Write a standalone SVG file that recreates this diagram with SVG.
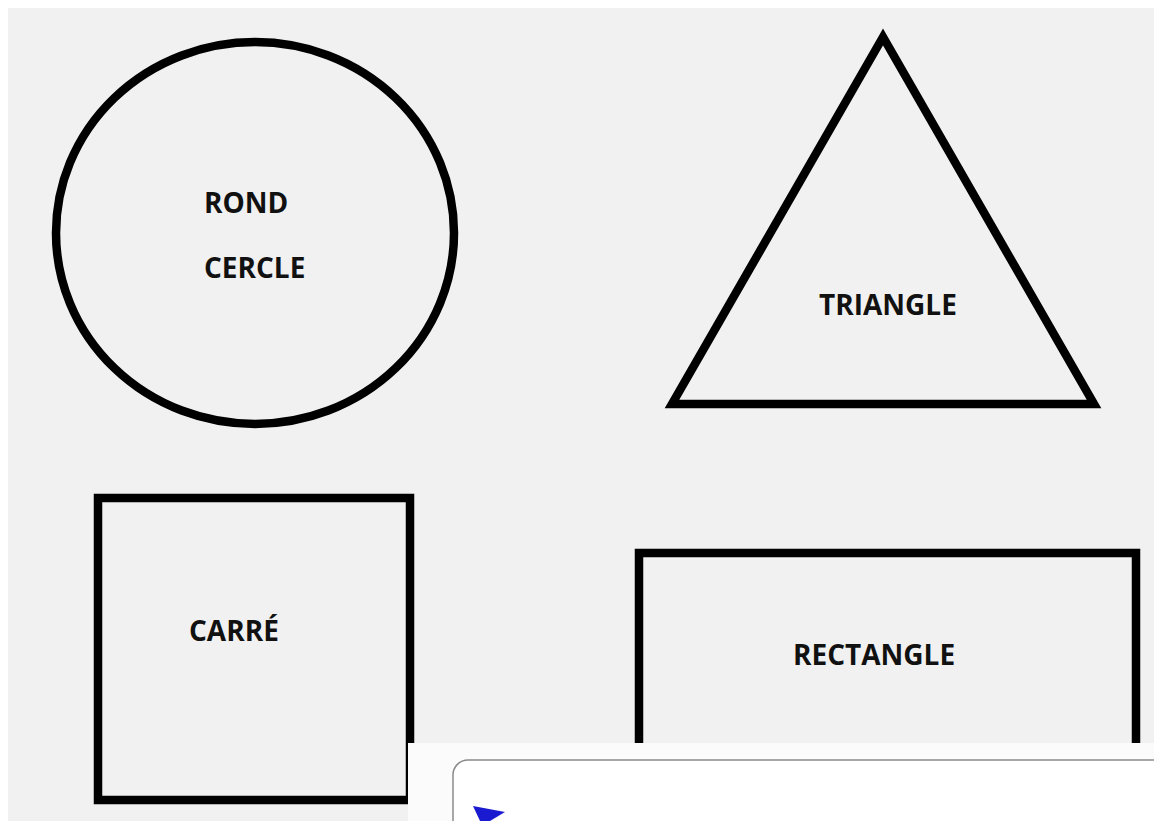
<svg xmlns="http://www.w3.org/2000/svg" width="1154" height="821" viewBox="0 0 1154 821">
<style>
.s{fill:none;stroke:#000;stroke-width:8.5}
.t{font-family:"Open Sans","Liberation Sans",sans-serif;font-weight:bold;font-size:28px;fill:#111}
</style>
<rect width="1154" height="821" fill="#fff"/>
<rect x="8" y="8" width="1146" height="813" fill="#f1f1f1"/>
<g id="rond">
<ellipse class="s" cx="255" cy="233" rx="199" ry="191"/>
<text class="t" x="204" y="213">ROND</text>
<text class="t" x="204" y="278">CERCLE</text>
</g>
<g id="triangle">
<polygon class="s" points="883,37 672,404 1094,404"/>
<text class="t" x="819" y="315">TRIANGLE</text>
</g>
<g id="carre">
<rect class="s" x="98" y="498" width="312" height="302"/>
<text class="t" x="189" y="641">CARRÉ</text>
</g>
<g id="rectangle">
<rect class="s" x="639" y="553" width="497" height="260"/>
<text class="t" x="793" y="665">RECTANGLE</text>
</g>
<g id="overlay">
<rect x="408" y="743" width="746" height="78" fill="#fbfbfb"/>
<rect x="453" y="760" width="720" height="90" rx="15" fill="#fff" stroke="#8a8a8a" stroke-width="1.5"/>
<polygon points="473,806 505,812 490,821 480,821" fill="#1a1ad0"/>
</g>
</svg>
